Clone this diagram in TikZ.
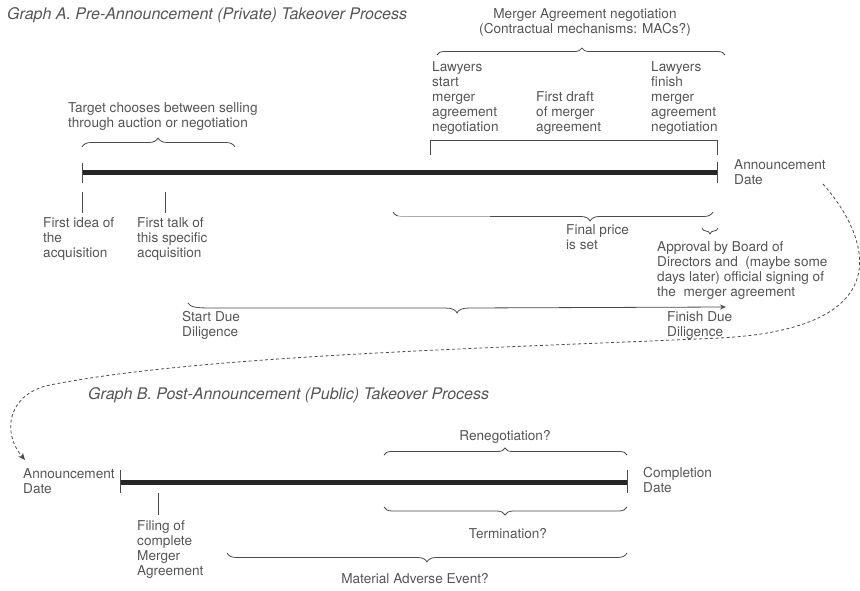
\documentclass[tikz,border=0pt]{standalone}
\usepackage{fontspec}
\setmainfont{TeX Gyre Heros}
\usetikzlibrary{decorations.pathreplacing,arrows.meta}
\definecolor{txt}{HTML}{555555}
\definecolor{ln}{HTML}{4A4A4A}
\begin{document}
\begin{tikzpicture}[x=1pt,y=-1pt,
 lbl/.style={anchor=north west,inner sep=0pt,align=left,text=txt,font=\fontsize{13.6}{15}\selectfont},
 clbl/.style={anchor=north,inner sep=0pt,align=center,text=txt,font=\fontsize{13.6}{15}\selectfont},
 ttl/.style={anchor=west,inner sep=0pt,text=txt,font=\fontsize{16}{18}\selectfont\itshape},
 bar/.style={line width=5pt,draw=black!85},
 tickline/.style={line width=1pt,draw=ln},
 thinline/.style={line width=0.8pt,draw=ln},
 bup/.style 2 args={thinline,decorate,decoration={brace,amplitude=#1,aspect=#2}},
 bdown/.style 2 args={thinline,decorate,decoration={brace,mirror,amplitude=#1,aspect=#2}},
]
\useasboundingbox (0,0) rectangle (860,591);

% ---------- Graph A ----------
\node[ttl] (tA) at (7,15) {Graph A. Pre-Announcement (Private) Takeover Process};
\node[lbl] (target) at (68,102) {Target chooses between selling\\through auction or negotiation};
\node[clbl] (man) at (585,8) {Merger Agreement negotiation\\(Contractual mechanisms: MACs?)};
\node[lbl] (lws) at (432,61) {Lawyers\\start\\merger\\agreement\\negotiation};
\node[lbl] (fd) at (536,91) {First draft\\of merger\\agreement};
\node[lbl] (lwf) at (651,61) {Lawyers\\finish\\merger\\agreement\\negotiation};
\node[lbl] (annA) at (734,159) {Announcement\\Date};
\node[lbl] (fi) at (43,217) {First idea of\\the\\acquisition};
\node[lbl] (ft) at (137,217) {First talk of\\this specific\\acquisition};
\node[lbl] (fp) at (566,224) {Final price\\is set};
\node[lbl] (ap) at (657,241) {Approval by Board of\\Directors and\ \ (maybe some\\days later) official signing of\\the\ \ merger agreement};
\node[lbl] (sdd) at (182,311) {Start Due\\Diligence};
\node[lbl] (fdd) at (667,311) {Finish Due\\Diligence};

\coordinate (A0) at (82,173);
\coordinate (A1) at (717,173);
\draw[bar] (A0) -- (A1);
\draw[tickline] (82,163) -- (82,183);
\draw[tickline] (717,162) -- (717,183);
\draw[tickline] (82,192) -- (82,213);
\draw[tickline] (165,192) -- (165,213);

\draw[bup={9pt}{0.497}] (82,147) -- (235,147);
\draw[bup={7pt}{0.503}] (437,55) -- (725,55);
\draw[thinline] (430,155) -- (430,140) -- (717,140) -- (717,155);
\draw[bdown={9pt}{0.616}] (393,212) -- (713,212);
\draw[white,opacity=0.55,line width=2.5pt] (398,216.5) -- (490,216.5);
\draw[bdown={6pt}{0.5}] (702,228) -- (718,228);
\draw[thinline,-{Stealth[length=6pt,width=5pt]}] (188,303) .. controls (190,307) and (196,308) .. (210,308) -- (445,308) .. controls (452,308) and (456,310) .. (457,313) .. controls (458,310) and (462,308) .. (469,308) -- (726,307);

% ---------- Graph B ----------
\node[ttl] (tB) at (88,395) {Graph B. Post-Announcement (Public) Takeover Process};
\node[lbl] (annB) at (23,468) {Announcement\\Date};
\node[lbl] (comp) at (643,467) {Completion\\Date};
\node[clbl] (ren) at (505,430) {Renegotiation?};
\node[clbl] (ter) at (508,528) {Termination?};
\node[lbl] (fil) at (137,520) {Filing of\\complete\\Merger\\Agreement};
\node[clbl] (mae) at (415,573) {Material Adverse Event?};

\coordinate (B0) at (120,482);
\coordinate (B1) at (627,482);
\draw[bar] (B0) -- (B1);
\draw[tickline] (120,470) -- (120,493);
\draw[tickline] (627,470) -- (627,493);
\draw[tickline] (158,493) -- (158,515);

\draw[bup={7pt}{0.498}] (384,455) -- (627,455);
\draw[bdown={8pt}{0.498}] (384,507) -- (627,507);
\draw[bdown={9pt}{0.5}] (227,553) -- (627,553);

% ---------- dashed connector ----------
\coordinate (d0) at (823,184);
\coordinate (d1) at (25,460);
\draw[thinline,dash pattern=on 3pt off 2.5pt,-{Stealth[length=7pt,width=6pt]}] (d0) .. controls (868,235) and (905,328) .. (720,338) .. controls (500,348) and (200,355) .. (50,385) .. controls (10,393) and (0,430) .. (d1);
\end{tikzpicture}
\end{document}
